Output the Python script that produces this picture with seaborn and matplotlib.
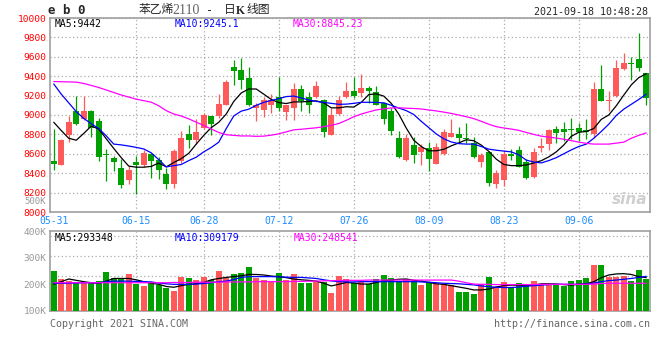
import numpy as np
import pandas as pd
import matplotlib
matplotlib.use("Agg")
import matplotlib.pyplot as plt
import seaborn as sns

# daily candles, eb2110 (styrene), one per trading day
opens = [8530, 8488, 8794, 9046, 8955, 9046, 8937, 8600, 8554, 8453,
         8325, 8520, 8488, 8600, 8534, 8393, 8292, 8529, 8801, 8740,
         8870, 8988, 8988, 9107, 9495, 9464, 9380, 9075, 9049, 9107,
         9186, 9029, 9074, 9271, 9186, 9182, 9158, 8791, 9006, 9182,
         9243, 9227, 9278, 9237, 9125, 9046, 8768, 8539, 8689, 8621,
         8656, 8496, 8598, 8778, 8801, 8761, 8710, 8519, 8621, 8284,
         8325, 8597, 8638, 8513, 8360, 8656, 8700, 8852, 8852, 8852,
         8863, 8842, 8801, 9271, 9141, 9199, 9475, 9533, 9574, 9431]
highs = [8860, 8755, 8988, 9197, 9200, 9050, 8972, 8650, 8574, 8545,
         8478, 8580, 8638, 8610, 8568, 8451, 8645, 8835, 8893, 8955,
         9023, 8990, 9220, 9360, 9566, 9588, 9492, 9125, 9186, 9220,
         9396, 9107, 9335, 9311, 9233, 9352, 9165, 9074, 9192, 9342,
         9396, 9424, 9294, 9301, 9130, 9074, 8835, 8802, 8778, 8700,
         8717, 8710, 8860, 8955, 8876, 8921, 8778, 8605, 8631, 8434,
         8638, 8648, 8682, 8547, 8656, 8768, 8860, 8886, 8927, 8972,
         8921, 8955, 9345, 9516, 9243, 9566, 9635, 9600, 9845, 9431]
lows = [8430, 8480, 8717, 8900, 8950, 8774, 8530, 8315, 8427, 8248,
        8284, 8190, 8462, 8350, 8340, 8233, 8248, 8510, 8660, 8700,
        8860, 8794, 8970, 9100, 9311, 9270, 9090, 8937, 8982, 9023,
        9040, 8947, 8944, 9046, 9016, 9180, 8774, 8790, 9000, 9180,
        9176, 9186, 9125, 9100, 8911, 8791, 8554, 8530, 8506, 8485,
        8427, 8490, 8590, 8770, 8707, 8707, 8560, 8468, 8268, 8248,
        8264, 8540, 8460, 8340, 8355, 8615, 8641, 8707, 8733, 8750,
        8727, 8750, 8758, 9140, 9046, 9190, 9464, 9362, 9457, 9100]
closes = [8490, 8743, 8924, 8903, 9046, 8870, 8570, 8585, 8513, 8281,
          8437, 8488, 8607, 8525, 8432, 8284, 8631, 8768, 8743, 8829,
          8995, 8911, 9118, 9345, 9457, 9362, 9107, 9107, 9158, 9158,
          9074, 9100, 9271, 9141, 9107, 9294, 8825, 8995, 9158, 9243,
          9192, 9278, 9243, 9107, 8962, 8835, 8564, 8761, 8590, 8666,
          8547, 8666, 8825, 8819, 8761, 8750, 8564, 8590, 8302, 8404,
          8597, 8580, 8468, 8350, 8621, 8682, 8842, 8819, 8829, 8845,
          8829, 8829, 9271, 9141, 9150, 9482, 9539, 9526, 9482, 9176]
volumes = [250000, 220000, 212500, 207500, 207500, 204000, 212500, 246000, 225000, 220000,
           239000, 200000, 194000, 207500, 197500, 187500, 175000, 227500, 224000, 216000,
           227500, 216000, 250000, 222500, 239000, 242500, 265000, 225000, 216000, 210000,
           242500, 216000, 239000, 205000, 205000, 210000, 210000, 167500, 231000, 220000,
           204000, 207500, 201000, 220000, 235000, 224000, 212500, 220000, 212500, 197500,
           207500, 202500, 202500, 197500, 171000, 171000, 164000, 200000, 227500, 191000,
           209000, 185000, 205000, 201000, 212500, 201000, 200000, 197500, 194000, 212500,
           216000, 224000, 272500, 272500, 227500, 227500, 231000, 212500, 254000, 220000]

# moving-average lines as drawn on the chart
ma5 = [8925, 8840, 8760, 8740, 8810, 8886, 8855, 8755, 8655, 8560,
       8473, 8462, 8462, 8470, 8505, 8465, 8510, 8550, 8605, 8700,
       8790, 8870, 8925, 9010, 9140, 9227, 9268, 9268, 9215, 9160,
       9128, 9118, 9135, 9135, 9140, 9146, 9125, 9074, 9074, 9085,
       9082, 9130, 9210, 9218, 9195, 9120, 9010, 8865, 8740, 8675,
       8631, 8631, 8646, 8682, 8712, 8745, 8735, 8690, 8625, 8545,
       8490, 8478, 8478, 8485, 8505, 8529, 8568, 8620, 8690, 8780,
       8822, 8830, 8860, 8955, 9000, 9095, 9205, 9310, 9385, 9425]
ma10 = [9320, 9215, 9125, 9035, 8965, 8910, 8860, 8785, 8700, 8692,
        8680, 8666, 8650, 8610, 8540, 8465, 8478, 8490, 8530, 8565,
        8620, 8665, 8720, 8860, 8990, 9040, 9060, 9100, 9130, 9150,
        9168, 9190, 9195, 9176, 9155, 9140, 9130, 9120, 9110, 9112,
        9120, 9131, 9131, 9130, 9125, 9100, 9072, 9045, 9005, 8935,
        8870, 8805, 8755, 8722, 8705, 8700, 8700, 8675, 8648, 8637,
        8628, 8620, 8590, 8535, 8515, 8506, 8530, 8560, 8600, 8640,
        8675, 8700, 8760, 8830, 8905, 8995, 9060, 9110, 9160, 9215]
ma30 = [9345, 9343, 9341, 9339, 9325, 9305, 9283, 9258, 9232, 9206,
        9185, 9163, 9148, 9132, 9095, 9045, 9010, 8990, 8960, 8926,
        8892, 8855, 8820, 8797, 8790, 8784, 8784, 8780, 8782, 8792,
        8806, 8826, 8847, 8853, 8861, 8868, 8880, 8893, 8912, 8945,
        8982, 9010, 9032, 9052, 9063, 9073, 9074, 9070, 9067, 9062,
        9052, 9042, 9030, 9016, 9000, 8982, 8963, 8935, 8905, 8880,
        8866, 8855, 8842, 8820, 8800, 8782, 8772, 8762, 8750, 8736,
        8720, 8708, 8700, 8700, 8700, 8710, 8720, 8760, 8790, 8815]
vol_ma5 = [200, 210, 220, 215, 210, 206, 204, 212, 222, 222,
           222, 217, 210, 204, 200, 192, 189, 195, 200, 202,
           207, 217, 222, 226, 229, 232, 237, 237, 235, 231,
           229, 225, 220, 217, 215, 212, 204, 194, 200, 207,
           205, 201, 201, 207, 214, 216, 219, 220, 215, 212,
           207, 202, 200, 195, 190, 185, 179, 179, 182, 190,
           195, 197, 197, 195, 197, 202, 202, 201, 199, 197,
           200, 202, 210, 225, 235, 239, 240, 237, 229, 225]
vol_ma10 = [204, 204, 204, 205, 206, 206, 205, 210, 212, 212,
            212, 211, 210, 209, 205, 202, 200, 200, 200, 201,
            203, 206, 210, 212, 218, 226, 229, 229, 229, 229,
            228, 227, 226, 226, 224, 222, 217, 213, 210, 209,
            209, 210, 210, 210, 210, 210, 210, 210, 210, 209,
            208, 206, 204, 203, 202, 200, 198, 194, 191, 189,
            188, 188, 190, 193, 195, 197, 199, 200, 200, 200,
            200, 201, 205, 210, 214, 216, 219, 222, 226, 230]
vol_ma30 = [206, 206, 206, 206, 206, 206, 206, 206, 206, 206,
            206, 206, 206, 206, 206, 206, 207, 207, 207, 208,
            208, 208, 208, 209, 209, 209, 209, 210, 210, 210,
            210, 210, 211, 211, 212, 212, 213, 214, 214, 215,
            215, 215, 216, 216, 216, 216, 216, 216, 216, 216,
            216, 216, 216, 216, 212, 206, 201, 200, 200, 199,
            199, 199, 199, 199, 199, 200, 200, 200, 200, 200,
            200, 200, 201, 203, 204, 204, 204, 204, 204, 204]

tick_labels = ["05-31", "06-15", "06-28", "07-12", "07-26", "08-09", "08-23", "09-06"]
tick_idx = [0, 11, 20, 30, 40, 50, 60, 70]
price_ticks = list(range(8000, 10001, 200))
vol_ticks = [100000, 200000, 300000, 400000]

RED = "#FF5A5A"
GREEN = "#00A000"
GRID = "#AAAAAA"
FRAME = "#A0A0A0"
MA_COLORS = {"MA5": "black", "MA10": "#0000FF", "MA30": "#FF00FF"}

sns.set_style("white")
plt.rcParams["font.family"] = ["DejaVu Sans Mono", "Noto Sans CJK SC"]

n = len(closes)
df = pd.DataFrame({"idx": np.arange(n), "open": opens, "high": highs,
                   "low": lows, "close": closes, "vol": volumes})
df["color"] = np.where(df["close"] >= df["open"], RED, GREEN)

ma_price = pd.DataFrame({"idx": np.arange(n), "MA5": ma5, "MA10": ma10, "MA30": ma30})
ma_price = ma_price.melt(id_vars="idx", var_name="ma", value_name="value")
ma_vol = pd.DataFrame({"idx": np.arange(n), "MA5": vol_ma5, "MA10": vol_ma10, "MA30": vol_ma30})
ma_vol = ma_vol.melt(id_vars="idx", var_name="ma", value_name="value")
ma_vol["value"] = ma_vol["value"] * 1000

W, H = 660, 360
fig = plt.figure(figsize=(6.6, 3.6), dpi=100)
ax = fig.add_axes([50 / W, 1 - 212 / H, 600 / W, 194 / H])
axv = fig.add_axes([50 / W, 1 - 311 / H, 600 / W, 80 / H])

dots = (0, (1, 2))

# price panel
ax.vlines(df["idx"], df["low"], df["high"], colors=df["color"], lw=0.9, zorder=3)
body = np.maximum((df["close"] - df["open"]).abs(), 12)
ax.bar(df["idx"], body, bottom=df[["open", "close"]].min(axis=1), width=0.8,
       color=df["color"], linewidth=0, zorder=3)
sns.lineplot(data=ma_price, x="idx", y="value", hue="ma", palette=MA_COLORS,
             ax=ax, legend=False, lw=0.9, zorder=4)
ax.set_xlim(-0.5, n - 0.5)
ax.set_ylim(8000, 10000)
ax.set_yticks(price_ticks, [str(p) for p in price_ticks])
ax.set_xticks(tick_idx, tick_labels)
ax.yaxis.grid(True, color=GRID, ls=dots, lw=0.9)
for t in tick_idx[1:]:
    ax.axvline(t, color=GRID, ls=dots, lw=0.9, zorder=1)
ax.tick_params(axis="y", length=0, pad=2.5, labelsize=6.8, labelcolor="#FF0000")
ax.tick_params(axis="x", length=0, pad=3, labelsize=7, labelcolor="#1A8CFF")
ax.set_xlabel("")
ax.set_ylabel("")

# volume panel
axv.bar(df["idx"], df["vol"] - vol_ticks[0], bottom=vol_ticks[0], width=0.8,
        color=df["color"], linewidth=0, zorder=3)
sns.lineplot(data=ma_vol, x="idx", y="value", hue="ma", palette=MA_COLORS,
             ax=axv, legend=False, lw=0.9, zorder=4)
axv.set_xlim(-0.5, n - 0.5)
axv.set_ylim(vol_ticks[0], vol_ticks[-1])
axv.set_yticks(vol_ticks, [f"{v // 1000}K" for v in vol_ticks])
axv.set_xticks([])
for f in (0.19, 0.44, 0.69, 0.94):
    axv.plot([0, 1], [f, f], transform=axv.transAxes, color=GRID, ls=dots, lw=0.9, zorder=1)
for t in tick_idx[1:]:
    axv.axvline(t, color=GRID, ls=dots, lw=0.9, zorder=1)
axv.tick_params(axis="y", length=0, pad=2.5, labelsize=6.8, labelcolor="#999999")
axv.set_xlabel("")
axv.set_ylabel("")

for a in (ax, axv):
    for s in a.spines.values():
        s.set_color(FRAME)
        s.set_linewidth(1.2)

# legends of the MA values
def px(x, y):
    return x / W, 1 - y / H

for label, x in (("MA5:9442", 55), ("MA10:9245.1", 175), ("MA30:8845.23", 293)):
    fig.text(*px(x, 24), label, color=MA_COLORS[label.split(":")[0]], fontsize=7, va="center")
for label, x in (("MA5:293348", 55), ("MA10:309179", 175), ("MA30:248541", 294)):
    fig.text(*px(x, 238), label, color=MA_COLORS[label.split(":")[0]], fontsize=7, va="center")

# header
fig.text(*px(48, 11), "e b 0", fontsize=9, fontweight="bold", va="center")
fig.text(*px(139, 10), "苯乙烯", fontsize=8.5, family="Noto Sans CJK SC", va="center")
fig.text(*px(172, 11), "2110", fontsize=10, family="Liberation Serif", color="#666666", va="center")
fig.text(*px(206, 11), "-", fontsize=8.5, va="center")
fig.text(*px(224, 10), "日", fontsize=8.5, family="Noto Sans CJK SC", va="center")
fig.text(*px(236, 11), "K", fontsize=8.5, family="Liberation Serif", fontweight="bold", va="center")
fig.text(*px(246, 10), "线图", fontsize=8.5, family="Noto Sans CJK SC", va="center")
fig.text(*px(648, 12), "2021-09-18 10:48:28", fontsize=7.2, ha="right", va="center")

fig.text(*px(46, 202), "500K", fontsize=6.5, color="#999999", ha="right", va="center")
fig.text(*px(630, 199), "sina", fontsize=11, color="#CFCFCF", style="italic",
         fontweight="bold", family="DejaVu Sans", ha="center", va="center")

# footer
fig.text(*px(50, 324), "Copyright 2021 SINA.COM", fontsize=7.2, color="#666666", va="center")
fig.text(*px(650, 324), "http://finance.sina.com.cn", fontsize=7.2, color="#666666",
         ha="right", va="center")

fig.savefig("out.png", dpi=100)
